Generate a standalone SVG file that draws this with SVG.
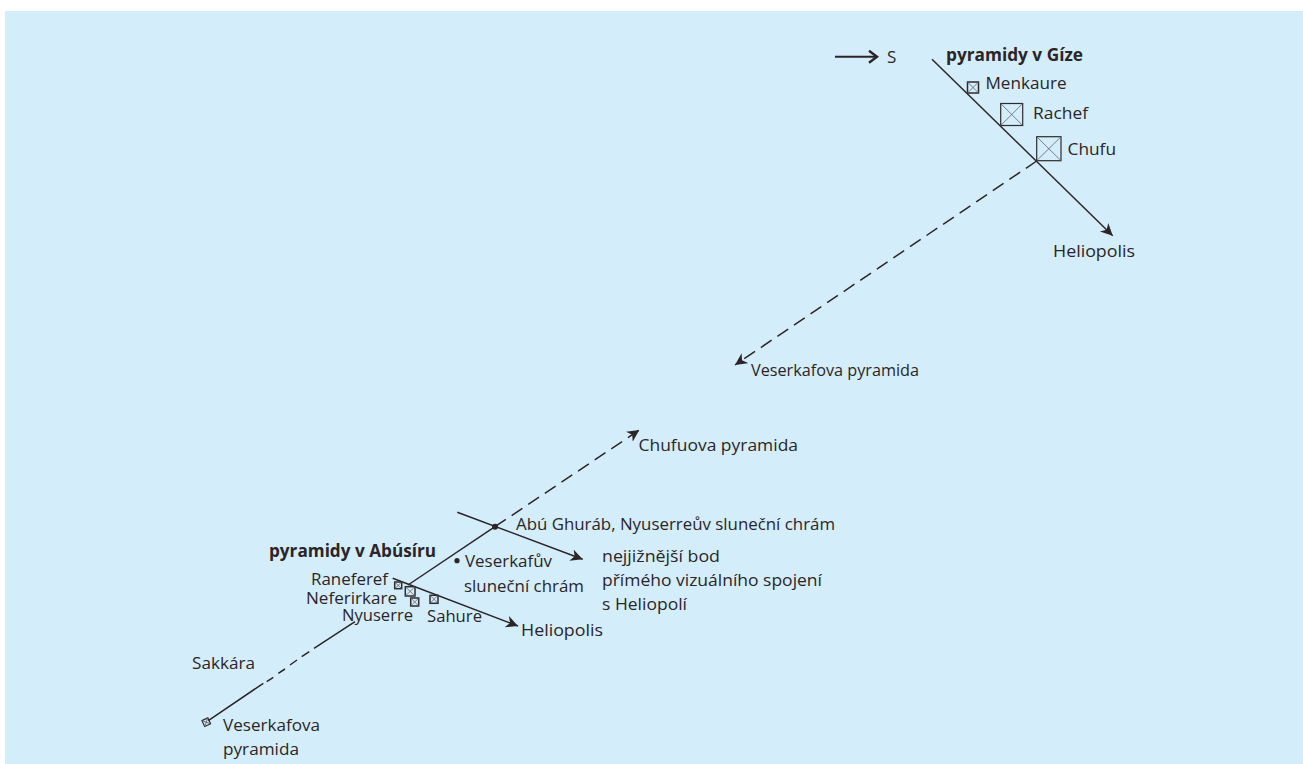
<svg xmlns="http://www.w3.org/2000/svg" width="1303" height="764" viewBox="0 0 1303 764">
<style>
text{font-family:"Open Sans","Noto Sans","Liberation Sans",sans-serif;font-size:17px;fill:#2b2527}
.b{font-weight:700}
.ln{fill:none;stroke:#2b2527;stroke-width:1.5}
.d{stroke-dasharray:13 7}
.box{fill:none;stroke:#2f2a2c;stroke-width:1.2}
.sm{stroke-width:1.5}
.x{fill:none;stroke:#5b6468;stroke-width:.8}
</style>
<defs>
<marker id="ah" markerUnits="userSpaceOnUse" markerWidth="16" markerHeight="14" refX="12" refY="6" orient="auto" viewBox="0 0 16 12">
<path d="M0,0 L12,6 L0,12 L3.5,6Z" fill="#2b2527"/>
</marker>
<marker id="ao" markerUnits="userSpaceOnUse" markerWidth="14" markerHeight="16" refX="11" refY="7" orient="auto" viewBox="0 0 14 14">
<path d="M3,1 L11,7 L3,13" fill="none" stroke="#2b2527" stroke-width="2.4"/>
</marker>
</defs>
<rect x="5" y="11" width="1298" height="753" fill="#d4edfb"/>
<g id="connectors">
<path class="ln" style="stroke-width:1.9" d="M835,56.7H877" marker-end="url(#ao)"/>
<path class="ln" d="M932,59.3L1112.7,235.7" marker-end="url(#ah)"/>
<path class="ln d" d="M1036.7,161L735,365" marker-end="url(#ah)"/>
<path class="ln" d="M408,585L495,526.7"/>
<path class="ln d" d="M495,526.7L639.3,430" marker-end="url(#ah)"/>
<path class="ln" d="M457.3,512.3L582.7,559.3" marker-end="url(#ah)"/>
<path class="ln" d="M392.7,578.3L518,626" marker-end="url(#ah)"/>
<path class="ln" d="M208.3,720.7L263.3,683.3M266.7,681.7L273.3,677.3M278.3,673.3L285,669M290,665L297,660M301.7,656.7L309.3,651.7M314,648.3L355,621.7"/>
</g>
<g id="north"><text x="887" y="63">S</text></g>
<g id="giza-title"><text class="b" x="946" y="60.7" textLength="137" lengthAdjust="spacingAndGlyphs">pyramidy v Gíze</text></g>
<g id="menkaure"><rect class="box sm" x="967.5" y="82" width="11" height="11"/><path class="x" d="M967.5,82L978.5,93M978.5,82L967.5,93"/><text x="985.5" y="89.3" textLength="81" lengthAdjust="spacingAndGlyphs">Menkaure</text></g>
<g id="rachef"><rect class="box" x="1000.7" y="103.5" width="22" height="22"/><path class="x" d="M1000.7,103.5L1022.7,125.5M1022.7,103.5L1000.7,125.5"/><text x="1033" y="119" textLength="55" lengthAdjust="spacingAndGlyphs">Rachef</text></g>
<g id="chufu"><rect class="box" x="1036.7" y="136.7" width="24.3" height="24"/><path class="x" d="M1036.7,136.7L1061,160.7M1061,136.7L1036.7,160.7"/><text x="1067.5" y="155" textLength="48.5" lengthAdjust="spacingAndGlyphs">Chufu</text></g>
<g id="heliopolis-giza"><text x="1053" y="256.7" textLength="82" lengthAdjust="spacingAndGlyphs">Heliopolis</text></g>
<g id="veserkaf-pyramid-label"><text x="751" y="376" textLength="168" lengthAdjust="spacingAndGlyphs">Veserkafova pyramida</text></g>
<g id="chufu-pyramid-label"><text x="638.5" y="450.7" textLength="159.5" lengthAdjust="spacingAndGlyphs">Chufuova pyramida</text></g>
<g id="abu-ghurab"><circle cx="495" cy="526.7" r="3" fill="#2b2527"/><text x="516" y="530" textLength="319" lengthAdjust="spacingAndGlyphs">Abú Ghuráb, Nyuserreův sluneční chrám</text></g>
<g id="southernmost"><text x="602" y="561.7" textLength="118" lengthAdjust="spacingAndGlyphs">nejjižnější bod</text><text x="602" y="585.7" textLength="220" lengthAdjust="spacingAndGlyphs">přímého vizuálního spojení</text><text x="602" y="609.5" textLength="85" lengthAdjust="spacingAndGlyphs">s Heliopolí</text></g>
<g id="abusir-title"><text class="b" x="269" y="557.3" textLength="167" lengthAdjust="spacingAndGlyphs">pyramidy v Abúsíru</text></g>
<g id="veserkaf-temple"><circle cx="457" cy="560.7" r="2.6" fill="#2b2527"/><text x="465" y="567.3" textLength="87" lengthAdjust="spacingAndGlyphs">Veserkafův</text><text x="464" y="591.7" textLength="120" lengthAdjust="spacingAndGlyphs">sluneční chrám</text></g>
<g id="raneferef"><rect class="box sm" x="394.7" y="582" width="7" height="6.7"/><path class="x" d="M394.7,582L401.7,588.7M401.7,582L394.7,588.7"/><text x="311" y="585" textLength="77" lengthAdjust="spacingAndGlyphs">Raneferef</text></g>
<g id="neferirkare"><rect class="box sm" x="405.3" y="586.7" width="9.7" height="9.3"/><path class="x" d="M405.3,586.7L415,596M415,586.7L405.3,596"/><text x="306" y="604" textLength="91" lengthAdjust="spacingAndGlyphs">Neferirkare</text></g>
<g id="nyuserre"><rect class="box sm" x="410.7" y="598" width="8" height="8"/><path class="x" d="M410.7,598L418.7,606M418.7,598L410.7,606"/><text x="342" y="620.7" textLength="71" lengthAdjust="spacingAndGlyphs">Nyuserre</text></g>
<g id="sahure"><rect class="box sm" x="430" y="595.3" width="8" height="8"/><path class="x" d="M430,595.3L438,603.3M438,595.3L430,603.3"/><text x="427" y="622.3" textLength="55" lengthAdjust="spacingAndGlyphs">Sahure</text></g>
<g id="heliopolis-abusir"><text x="521" y="635.7" textLength="82" lengthAdjust="spacingAndGlyphs">Heliopolis</text></g>
<g id="sakkara"><text x="192" y="669.3" textLength="63" lengthAdjust="spacingAndGlyphs">Sakkára</text></g>
<g id="veserkaf-pyramid"><rect class="box" x="203" y="719" width="6.5" height="6.5" transform="rotate(-25 206.2 722.2)"/><path class="x" d="M203,719L209.5,725.5M209.5,719L203,725.5" transform="rotate(-25 206.2 722.2)"/><text x="223" y="731" textLength="97" lengthAdjust="spacingAndGlyphs">Veserkafova</text><text x="223" y="755" textLength="76" lengthAdjust="spacingAndGlyphs">pyramida</text></g>
</svg>
